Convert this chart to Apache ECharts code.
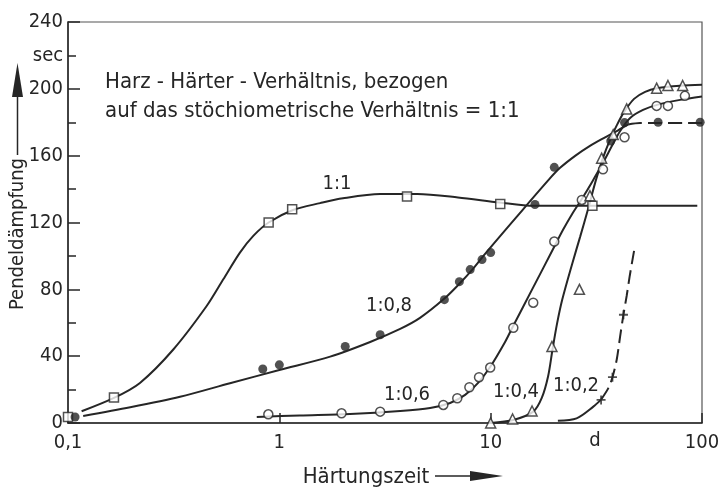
<!DOCTYPE html>
<html>
<head>
<meta charset="utf-8">
<script src="https://cdn.jsdelivr.net/npm/echarts@6/dist/echarts.min.js"></script>
<style>
  html, body { margin: 0; padding: 0; background: #fff; }
  #chart { width: 721px; height: 490px; }
</style>
</head>
<body>
<div id="chart"></div>
<script>
// Pendeldämpfung über Härtungszeit, je Harz-Härter-Verhältnis
const xTicks = [0.1, 1, 10, 100];
const yTicks = [0, 40, 80, 120, 160, 200, 240];

// gemessene Punkte [Härtungszeit, Pendeldämpfung]
const pts11 = [[0.1, 3.6], [0.165, 15.2], [0.89, 120], [1.15, 128], [4.02, 135.5], [11.1, 131], [30.3, 130]];
const pts08 = [[0.108, 3.6], [0.835, 32.3], [1.0, 34.8], [2.05, 45.8], [3.0, 52.8], [6.04, 73.8], [7.11, 84.6],
  [8.0, 91.8], [9.1, 97.8], [10, 102], [16.2, 130.8], [20, 153], [37, 168.8], [43, 179.8], [62, 180], [98, 180]];
const pts06 = [[0.887, 5.2], [1.97, 5.8], [3.0, 6.8], [5.97, 10.8], [6.95, 14.8], [7.93, 21.4], [8.81, 27.4],
  [9.95, 33.2], [12.8, 57], [15.9, 72], [20, 108.6], [27, 133.5], [34, 151.8], [43, 171], [61, 189.8], [69, 189.8], [83, 195.8]];
const pts04 = [[10, 0], [12.7, 2.4], [15.7, 7.2], [19.5, 45.8], [26.3, 80], [29.5, 136], [33.5, 158.5], [38, 172.6],
  [44, 188], [61, 200.4], [69, 202], [81, 202]];
const pts02 = [[33.3, 13.8], [37.7, 27.4], [42.5, 64.8]];

// Ausgleichskurven
const curve11 = [[0.116, 7], [0.165, 15], [0.219, 24], [0.315, 44], [0.453, 70], [0.543, 86], [0.651, 102], [0.753, 112],
  [0.89, 120], [1.16, 127.5], [1.56, 131.6], [2, 134.5], [3, 137], [4.5, 137], [7, 135], [11, 132], [16, 130], [30, 130], [95, 130]];
const curve08 = [[0.118, 4.2], [0.197, 9.4], [0.339, 15.7], [0.584, 23.8], [1.0, 31.7], [1.74, 39.7], [2.69, 48.5],
  [3.73, 56.3], [4.63, 62.9], [6.02, 74.3], [7.17, 83.8], [8.17, 91.6], [9.58, 102.4], [13.4, 124], [18.8, 145.5], [21.3, 152.7],
  [25.1, 159.9], [29.5, 165.9], [34.8, 171], [40.1, 175.2], [44.7, 178.7]];
const curve08End = [[44.7, 178.7], [50.9, 179.6], [100, 179.6]];
const curve06 = [[0.782, 3.6], [1.25, 4.5], [2.16, 5.4], [3.73, 7.2], [5.17, 9], [6.43, 12], [7.57, 16.8], [8.72, 24],
  [9.94, 33.5], [11.7, 48.5], [12.76, 57.9], [15.87, 81], [19.74, 104.1], [22, 115.6], [24.3, 125.1], [27, 134.1],
  [30.2, 144.3], [34, 155.7], [37.5, 165.9], [41, 174.8], [45.7, 182.6], [52.6, 187.4], [61.3, 190.4], [78.8, 193.4], [100, 195.4]];
const curve04 = [[10, 0], [12.8, 1.8], [15.9, 6.8], [17.45, 15], [18.7, 28], [19.6, 43.7], [20.6, 59.3], [21.8, 73.7],
  [24.3, 95.2], [26.5, 111.4], [28.9, 128.1], [31.5, 145.5], [34, 158.7], [36.7, 169.5], [39.6, 178.4], [42.8, 186.2],
  [47.7, 194], [53.8, 198.2], [61.3, 200.3], [78.8, 201.8], [100, 202.4]];
const curve02 = [[20.8, 1.4], [25.5, 2.8], [30.6, 9.8], [33.3, 14]];
const curve02End = [[33.3, 14], [36.1, 21], [37.7, 27.4], [39.5, 38], [41, 52], [42.5, 65], [44, 76], [45.5, 88], [47.7, 103]];

const ink = '#262626';
const font = "'Liberation Sans Narrow', 'DejaVu Sans Condensed', 'Liberation Sans', sans-serif";

function curve(data, dashed) {
  return {
    type: 'line', data: data, smooth: 0.3, showSymbol: false, silent: true,
    lineStyle: { color: ink, width: 2, type: dashed ? [14, 6] : 'solid' }, z: 2
  };
}
function marks(data, symbol, size, filled) {
  return {
    type: 'scatter', data: data, symbol: symbol, symbolSize: size, z: 3,
    itemStyle: { color: filled ? ink : '#fff', borderColor: ink, borderWidth: filled ? 0 : 1.5 }
  };
}
function txt(x, y, s, size, align) {
  return {
    type: 'text', x: x, y: y, z: 10,
    style: { text: s, fill: ink, font: (size || 20) + 'px ' + font, textAlign: align || 'center', textVerticalAlign: 'middle' }
  };
}

const chart = echarts.init(document.getElementById('chart'));
chart.setOption({
  animation: false,
  backgroundColor: '#fff',
  textStyle: { fontFamily: font, color: ink },
  grid: { left: 68, top: 22, width: 634, height: 401, show: true, borderColor: '#555', borderWidth: 1.2, outerBoundsMode: 'none' },
  xAxis: {
    type: 'log', logBase: 10, min: xTicks[0], max: xTicks[xTicks.length - 1],
    axisLine: { show: true, lineStyle: { color: ink, width: 1.5 } },
    axisTick: { show: true, inside: true, length: 10, lineStyle: { color: ink, width: 1.5 } },
    splitLine: { show: false },
    axisLabel: {
      fontSize: 20, color: ink, margin: 10, fontFamily: font,
      formatter: v => { const n = +(+v).toPrecision(3); return n === 0.1 ? '0,1' : String(n); }
    }
  },
  yAxis: {
    type: 'value', min: yTicks[0], max: yTicks[yTicks.length - 1], interval: 40,
    axisLine: { show: true, lineStyle: { color: ink, width: 1.5 } },
    axisTick: { show: true, inside: true, length: 12, lineStyle: { color: ink, width: 1.5 } },
    minorTick: { show: true, splitNumber: 2, length: 8, lineStyle: { color: ink, width: 1.5 } },
    splitLine: { show: false },
    axisLabel: { fontSize: 20, color: ink, margin: 5, fontFamily: font }
  },
  series: [
    curve(curve11), curve(curve08), curve(curve08End, true), curve(curve06), curve(curve04),
    curve(curve02), curve(curve02End, true),
    marks(pts11, 'rect', 9, false),
    marks(pts08, 'circle', 9, true),
    marks(pts06, 'circle', 9, false),
    marks(pts04, 'triangle', 10, false),
    marks(pts02, 'path://M4,0H6V4H10V6H6V10H4V6H0V4H4Z', 9, true)
  ],
  graphic: [
    txt(48, 56, 'sec', 20),
    txt(595, 441, 'd', 20),
    txt(105, 82, 'Harz - Härter - Verhältnis, bezogen', 22, 'left'),
    txt(105, 111, 'auf das stöchiometrische Verhältnis = 1:1', 22, 'left'),
    txt(337, 184, '1:1', 20),
    txt(389, 306, '1:0,8', 20),
    txt(407, 395, '1:0,6', 20),
    txt(516, 392, '1:0,4', 20),
    txt(576, 386, '1:0,2', 20),
    // Achsentitel mit Pfeilen
    txt(366, 477, 'Härtungszeit', 22),
    { type: 'line', shape: { x1: 435, y1: 476, x2: 472, y2: 476 }, style: { stroke: ink, lineWidth: 1.5 } },
    { type: 'polygon', shape: { points: [[470, 471], [503, 476], [470, 481]] }, style: { fill: ink } },
    { type: 'text', x: 18, y: 234, rotation: Math.PI / 2, z: 10,
      style: { text: 'Pendeldämpfung', fill: ink, font: '20px ' + font, textAlign: 'center', textVerticalAlign: 'middle' } },
    { type: 'line', shape: { x1: 17.5, y1: 155, x2: 17.5, y2: 95 }, style: { stroke: ink, lineWidth: 1.5 } },
    { type: 'polygon', shape: { points: [[12, 97], [17.5, 63], [23, 97]] }, style: { fill: ink } }
  ]
});
</script>
</body>
</html>
